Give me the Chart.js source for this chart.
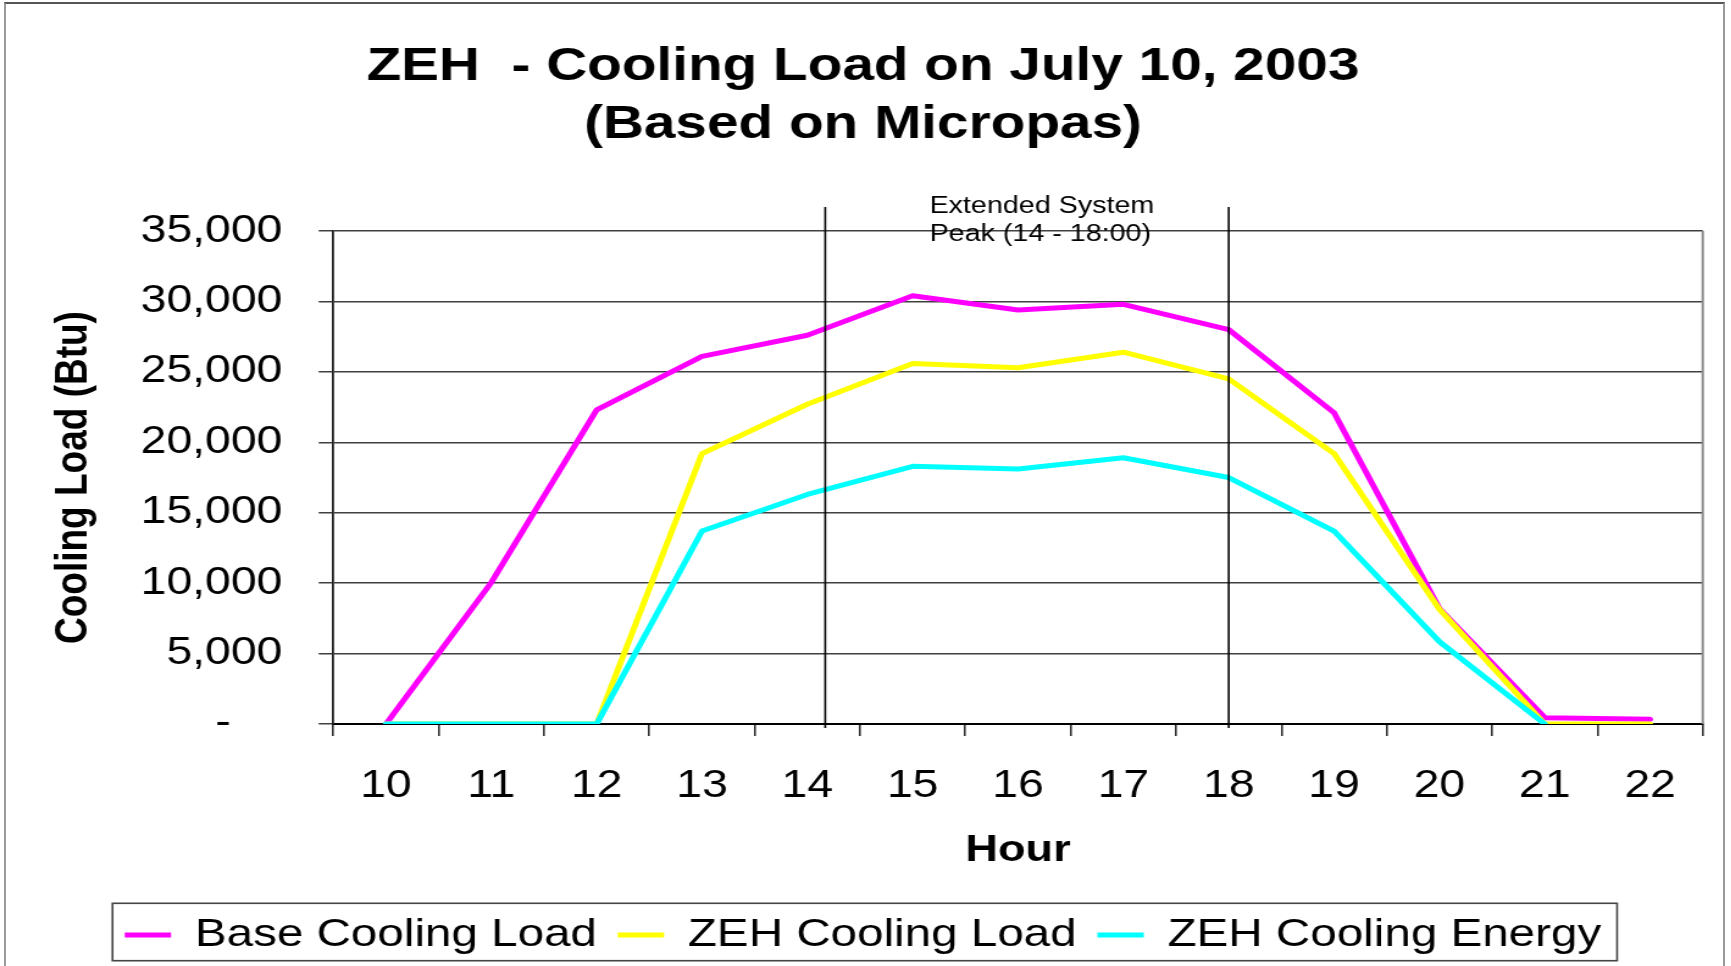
<!DOCTYPE html>
<html>
<head>
<meta charset="utf-8">
<title>ZEH - Cooling Load on July 10, 2003</title>
<script src="https://cdn.jsdelivr.net/npm/chart.js@4.4.0/dist/chart.umd.min.js"></script>
<style>
  html, body { margin: 0; padding: 0; background: #fff; overflow: hidden; }
  #frame {
    position: absolute; left: 4px; top: 2px; width: 1721px; height: 1000px;
    box-sizing: border-box; border: 2px solid #9a9a9a; border-top-color: #555;
  }
  /* the original chart was stretched sideways, so the canvas is too */
  #chart { position: absolute; left: 0; top: 0; transform: scaleX(1.22); transform-origin: 0 0; }
</style>
</head>
<body>
<div id="frame"></div>
<canvas id="chart" width="1419" height="966"></canvas>
<script>
// Chart data
const hours = ['10', '11', '12', '13', '14', '15', '16', '17', '18', '19', '20', '21', '22'];
const baseCoolingLoad = [0, 10050, 22300, 26100, 27600, 30400, 29400, 29800, 28000, 22100, 8200, 450, 330];
const zehCoolingLoad = [0, 0, 0, 19200, 22700, 25600, 25300, 26400, 24500, 19200, 8150, 0, 0];
const zehCoolingEnergy = [0, 0, 0, 13700, 16300, 18300, 18100, 18900, 17500, 13700, 5850, 0, null];
const yMax = 35000;
const yStep = 5000;
const peakHours = [14.17, 18];
const peakNote = ['Extended System', 'Peak (14 - 18:00)'];
const peakNoteHour = 15.16;

const FONT = '"Liberation Sans", Arial, sans-serif';
Chart.defaults.font.family = FONT;
Chart.defaults.color = '#000';

// index on the category axis for an hour (can be fractional)
const hourIndex = h => h - Number(hours[0]);

const overlayPlugin = {
    id: 'overlay',
    beforeDatasetsDraw(chart) {
        // right edge of plot area
        const { ctx, chartArea: a } = chart;
        ctx.save();
        ctx.strokeStyle = '#8a8a8a';
        ctx.lineWidth = 2;
        ctx.beginPath();
        ctx.moveTo(a.right, a.top);
        ctx.lineTo(a.right, a.bottom);
        ctx.stroke();
        ctx.restore();
    },
    afterDraw(chart) {
        const { ctx, chartArea: a, scales: { x } } = chart;
        ctx.save();

        // peak period markers
        ctx.strokeStyle = '#000';
        ctx.lineWidth = 1.6;
        peakHours.forEach(h => {
            const px = x.getPixelForValue(hourIndex(h));
            ctx.beginPath();
            ctx.moveTo(px, a.top - 24);
            ctx.lineTo(px, a.bottom + 4);
            ctx.stroke();
        });

        // note text
        ctx.fillStyle = '#000';
        ctx.font = '23.5px ' + FONT;
        ctx.textAlign = 'left';
        ctx.textBaseline = 'middle';
        const tx = x.getPixelForValue(hourIndex(peakNoteHour));
        ctx.fillText(peakNote[0], tx, a.top - 24.8);
        ctx.fillText(peakNote[1], tx, a.top + 3.5);

        // legend frame
        const hb = chart.legend.legendHitBoxes;
        if (hb && hb.length) {
            const first = hb[0], last = hb[hb.length - 1];
            const x0 = first.left - 10;
            const x1 = last.left + last.width + 13;
            const y0 = first.top - 12.2;
            const y1 = first.top + first.height + 6.2;
            ctx.strokeStyle = '#444';
            ctx.lineWidth = 1.6;
            ctx.strokeRect(x0, y0, x1 - x0, y1 - y0);
        }
        ctx.restore();
    }
};

const ctx = document.getElementById('chart').getContext('2d');
new Chart(ctx, {
    type: 'line',
    data: {
        labels: hours,
        datasets: [
            { label: 'Base Cooling Load', data: baseCoolingLoad, borderColor: '#ff00ff', backgroundColor: '#ff00ff', order: 3 },
            { label: 'ZEH Cooling Load', data: zehCoolingLoad, borderColor: '#ffff00', backgroundColor: '#ffff00', order: 2 },
            { label: 'ZEH Cooling Energy', data: zehCoolingEnergy, borderColor: '#00ffff', backgroundColor: '#00ffff', order: 1 }
        ]
    },
    options: {
        responsive: false,
        animation: false,
        devicePixelRatio: 1,
        events: [],
        datasets: {
            line: {
                borderWidth: 5,
                pointRadius: 0,
                tension: 0,
                fill: false,
                borderCapStyle: 'round',
                borderJoinStyle: 'round'
            }
        },
        layout: { padding: { left: 19, right: 23.3, top: 5, bottom: 1.5 } },
        scales: {
            x: {
                offset: true,
                grid: { offset: true, drawOnChartArea: false, drawTicks: true, tickLength: 12, color: '#333', lineWidth: 1.6 },
                border: { color: '#000', width: 2 },
                ticks: { font: { size: 38 }, padding: 27.4, color: '#000', maxRotation: 0, autoSkip: false },
                title: {
                    display: true, text: 'Hour', color: '#000',
                    font: { size: 37, weight: 'bold' },
                    padding: { top: 0, bottom: 25.1 }
                },
                afterFit: s => { s.height = 174.5; }
            },
            y: {
                min: 0,
                max: yMax,
                ticks: {
                    stepSize: yStep,
                    font: { size: 38 },
                    padding: 29.7,
                    color: '#000',
                    callback: v => v === 0 ? '-    ' : v.toLocaleString('en-US')
                },
                grid: { color: '#404040', lineWidth: 1.5, tickLength: 12, drawTicks: true },
                border: { color: '#222', width: 1.8 },
                title: {
                    display: true, text: 'Cooling Load (Btu)', color: '#000',
                    font: { size: 37, weight: 'bold' },
                    padding: { top: 19.1, bottom: 0 }
                },
                afterFit: s => { s.width = 254.2; }
            }
        },
        plugins: {
            title: {
                display: true,
                text: ['ZEH  - Cooling Load on July 10, 2003', '(Based on Micropas)'],
                color: '#000',
                font: { size: 46.5, weight: 'bold', lineHeight: 1.235 },
                padding: { top: 33.6, bottom: 77.6 }
            },
            legend: {
                position: 'bottom',
                labels: {
                    usePointStyle: true,
                    pointStyle: 'line',
                    pointStyleWidth: 38,
                    font: { size: 39 },
                    padding: 17,
                    color: '#000',
                    sort: (a, b) => a.datasetIndex - b.datasetIndex
                }
            },
            tooltip: { enabled: false }
        }
    },
    plugins: [overlayPlugin]
});
</script>
</body>
</html>
